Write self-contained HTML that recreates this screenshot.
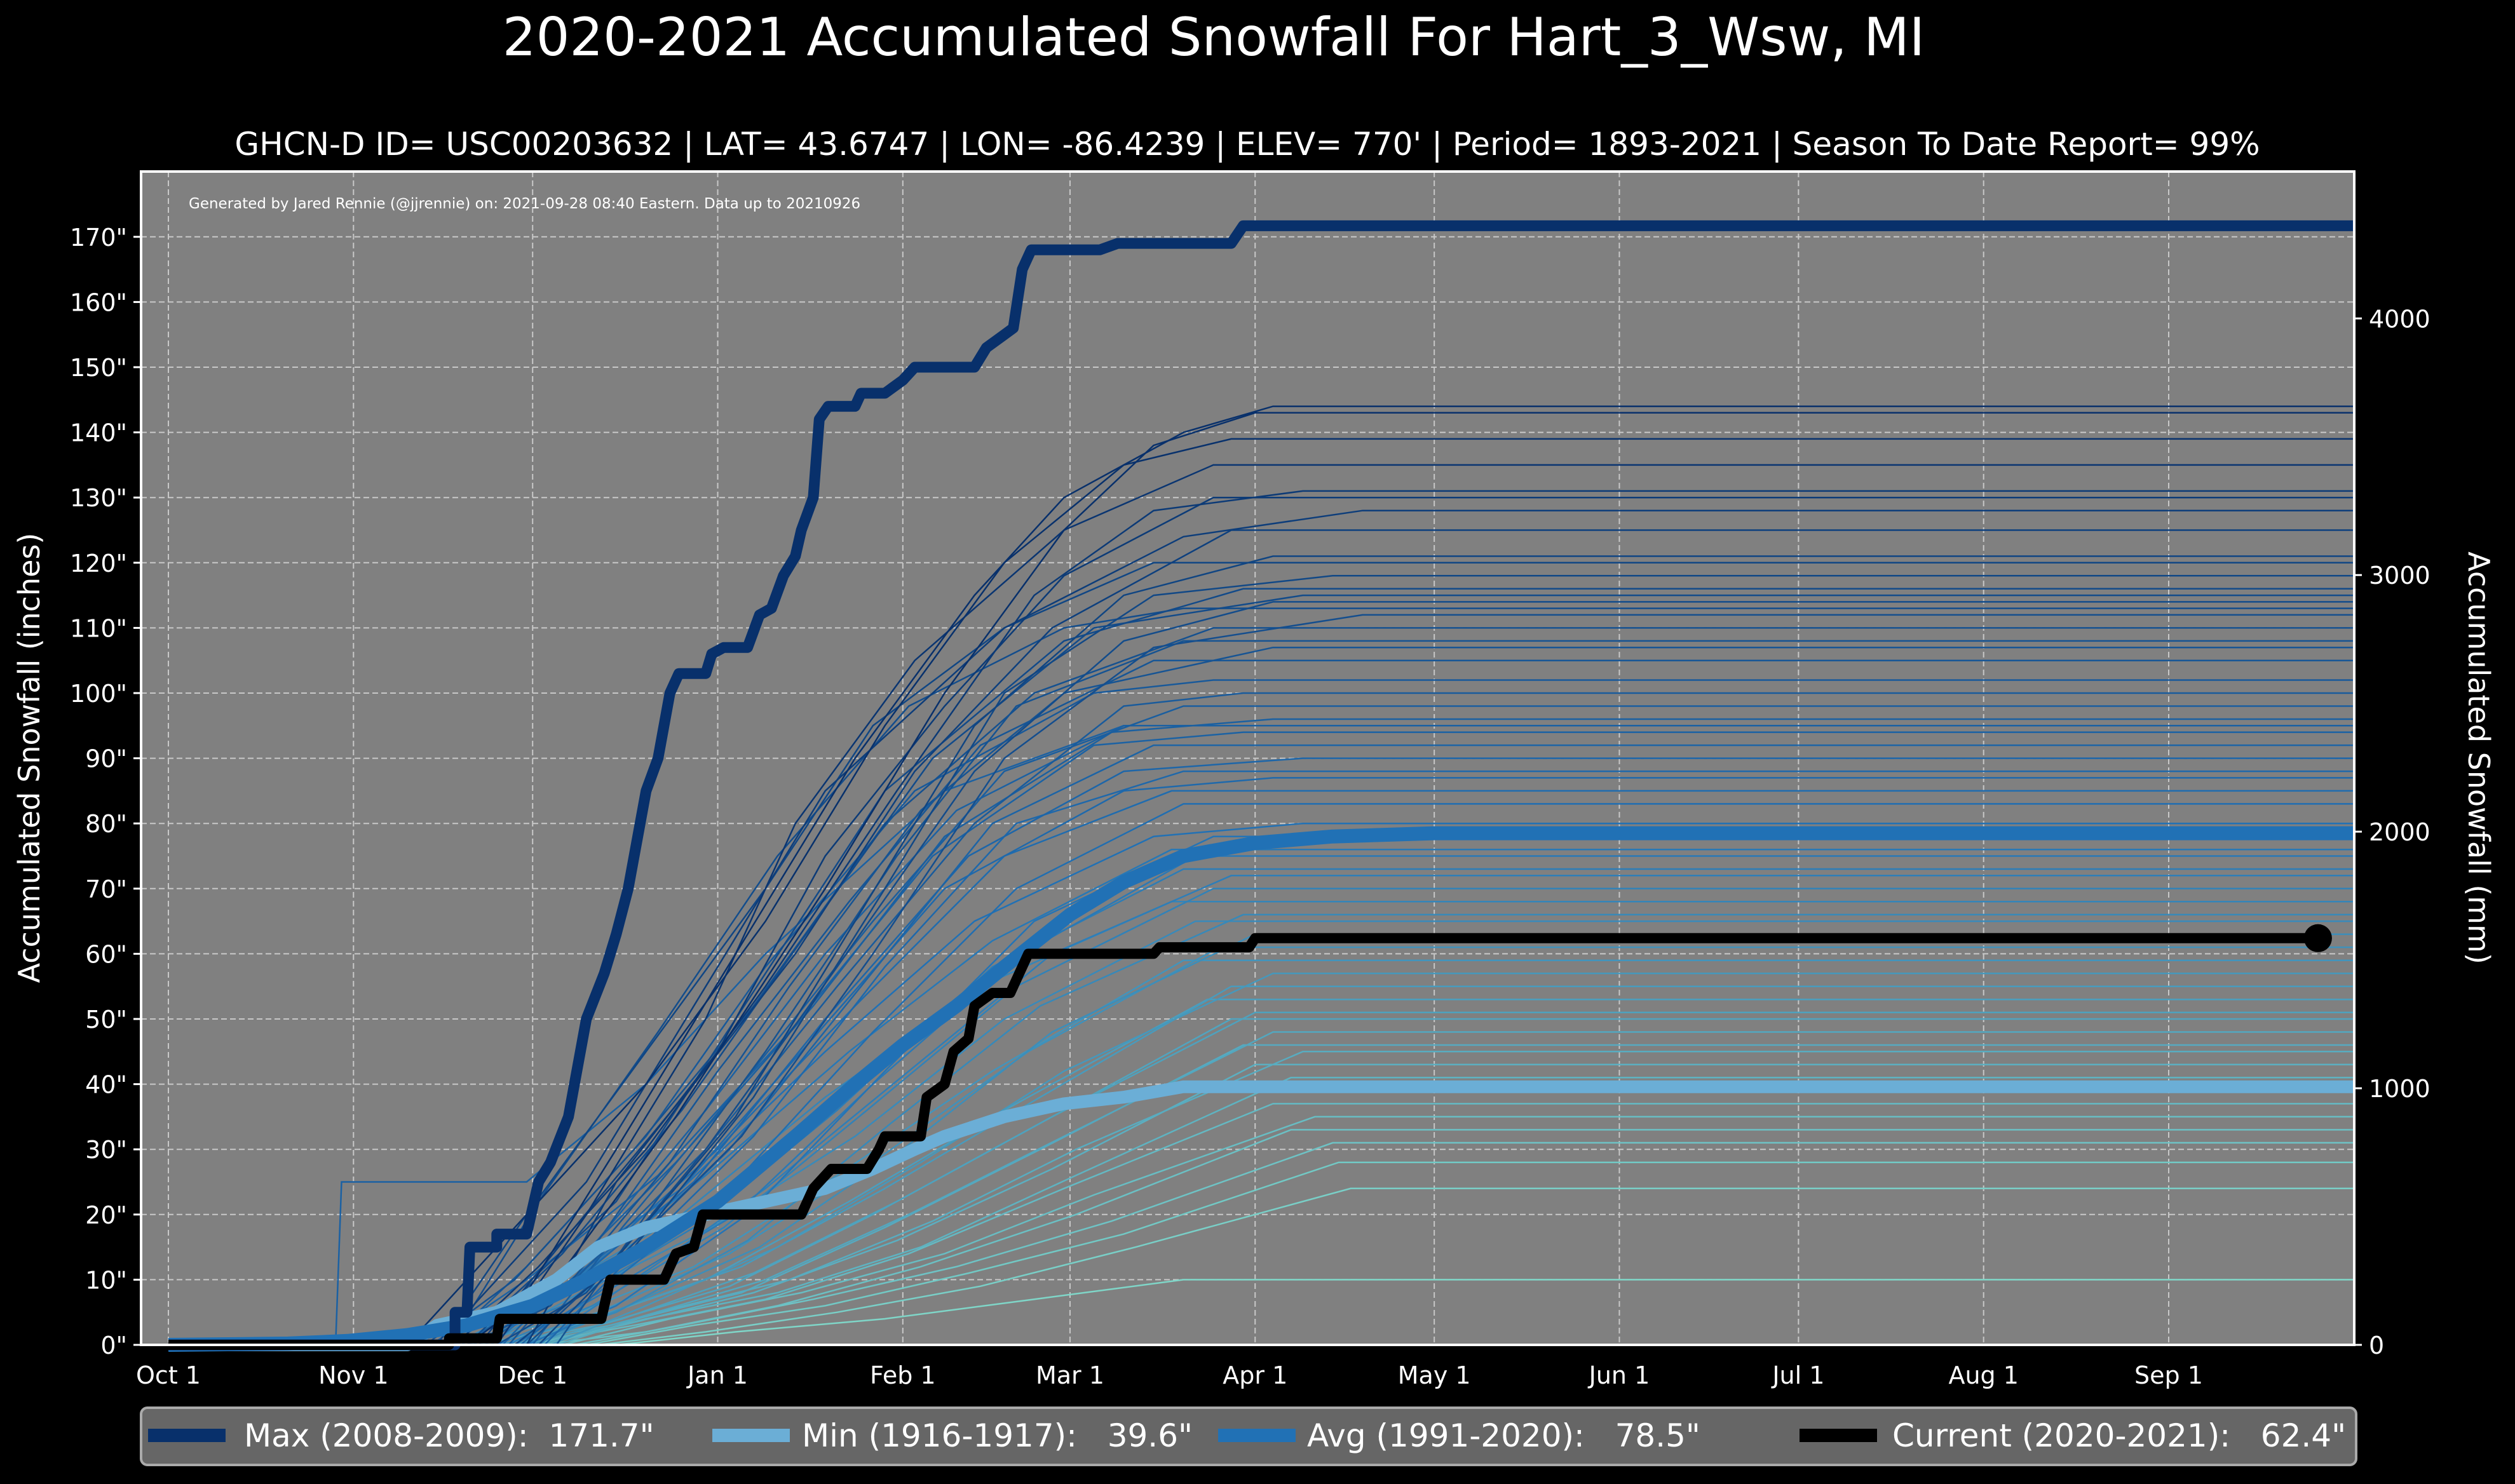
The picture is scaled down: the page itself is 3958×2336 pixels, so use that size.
<!DOCTYPE html>
<html><head><meta charset="utf-8"><style>
html,body{margin:0;padding:0;background:#000;}
svg{display:block;font-family:"DejaVu Sans","Liberation Sans",sans-serif;}
</style></head><body>
<svg id="chart" width="3958" height="2336" viewBox="0 0 3958 2336" xmlns="http://www.w3.org/2000/svg">
<rect x="0" y="0" width="3958" height="2336" fill="#000"/>
<text x="1910" y="87" fill="#fff" font-size="83" text-anchor="middle">2020-2021 Accumulated Snowfall For Hart_3_Wsw, MI</text>
<text x="1963" y="244" fill="#fff" font-size="50" text-anchor="middle">GHCN-D ID= USC00203632 | LAT= 43.6747 | LON= -86.4239 | ELEV= 770' | Period= 1893-2021 | Season To Date Report= 99%</text>
<rect x="222" y="270" width="3483" height="1847" fill="#808080"/>
<g id="grid"></g>
<g id="traces"></g>
<g id="main"></g>
<rect x="222" y="270" width="3483" height="1847" fill="none" stroke="#fff" stroke-width="4"/>
<text x="297" y="328" fill="#fff" font-size="23">Generated by Jared Rennie (@jjrennie) on: 2021-09-28 08:40 Eastern. Data up to 20210926</text>
<g id="axes"></g>
<text transform="translate(62,1193) rotate(-90)" fill="#fff" font-size="46" text-anchor="middle">Accumulated Snowfall (inches)</text>
<text transform="translate(3885,1193) rotate(90)" fill="#fff" font-size="46" text-anchor="middle">Accumulated Snowfall (mm)</text>
<g>
<rect x="222" y="2216" width="3486" height="90" rx="10" fill="#666" stroke="#aaa" stroke-width="4"/>
<rect x="233" y="2249" width="122" height="21" fill="#08306b"/>
<text x="384" y="2277" fill="#fff" font-size="50" xml:space="preserve">Max (2008-2009):  171.7"</text>
<rect x="1121" y="2249" width="122" height="21" fill="#6baed6"/>
<text x="1262" y="2277" fill="#fff" font-size="50" xml:space="preserve">Min (1916-1917):   39.6"</text>
<rect x="1917" y="2249" width="122" height="21" fill="#2171b5"/>
<text x="2057" y="2277" fill="#fff" font-size="50" xml:space="preserve">Avg (1991-2020):   78.5"</text>
<rect x="2832" y="2249" width="122" height="21" fill="#000"/>
<text x="2978" y="2277" fill="#fff" font-size="50" xml:space="preserve">Current (2020-2021):   62.4"</text>
</g>
</svg>
<script>
const monthLabels = ["Oct 1","Nov 1","Dec 1","Jan 1","Feb 1","Mar 1","Apr 1","May 1","Jun 1","Jul 1","Aug 1","Sep 1"];
const monthDays = [0,31,61,92,123,151,182,212,243,273,304,335];
const yTicks = [0,10,20,30,40,50,60,70,80,90,100,110,120,130,140,150,160,170];
const mmTicks = [0,1000,2000,3000,4000];
const endDay = 366;
const maxSeries = [[0,0],[48,0],[48,5],[50,5],[50.5,15],[55,15],[55,17],[60,17],[62,25],[64,28],[67,35],[70,50],[73,57],[75,63],[77,70],[80,85],[82,90],[84,100],[85.5,103],[90,103],[91,106],[93,107],[97,107],[99,112],[101,113],[103,118],[105,121],[106,125],[108,130],[109,142],[110.5,144],[115,144],[116,146],[120,146],[123,148],[125,150],[135,150],[137,153],[140,155],[141.5,156],[143,165],[144.5,168],[156,168],[159,169],[178,169],[180,171.7],[366,171.7]];
const avgSeries = [[0,0],[20,0.2],[30,0.6],[40,1.5],[50,3],[61,6],[70,10],[80,15],[92,22],[105,32],[115,40],[123,46],[132,52],[140,58],[151,66],[160,71],[170,75],[182,77],[195,78],[212,78.5],[366,78.5]];
const minSeries = [[0,0],[40,0],[45,3],[55,5],[65,10],[72,15],[80,18],[90,20],[100,22],[110,24],[118,27],[125,30],[130,32],[140,35],[150,37],[160,38],[170,39.6],[366,39.6]];
const curSeries = [[0,0],[47,0],[47,1],[55,1],[55.5,4],[72.5,4],[74,10],[83,10],[85,14],[88,15],[89.5,20],[106,20],[108,24],[111,27],[117,27],[119,30],[120,32],[126,32],[127,38],[130,40],[131.5,45],[134,47],[135,52],[138,54],[141,54],[142,56],[144,60],[165,60],[166,61],[181,61],[182,62.4],[360,62.4]];
const seasons = [
[[45,0],[60,8],[75,30],[95,60],[115,90],[135,115],[150,130],[170,140],[185,144]],
[[50,0],[65,10],[85,35],[110,70],[130,100],[150,125],[165,138],[182,143]],
[[40,0],[55,15],[80,40],[100,65],[120,95],[140,120],[160,135],[178,139]],
[[55,0],[70,20],[90,50],[105,80],[125,105],[150,125],[175,135]],
[[48,0],[62,12],[80,30],[100,55],[122,85],[145,115],[165,128],[190,131]],
[[60,0],[75,25],[92,45],[110,75],[130,98],[150,118],[175,130]],
[[35,0],[50,5],[70,25],[90,55],[110,85],[140,110],[170,124],[200,128]],
[[52,0],[68,18],[88,40],[105,60],[125,88],[148,110],[178,125]],
[[58,0],[72,10],[95,35],[115,65],[135,95],[160,115],[185,121]],
[[45,0],[60,20],[80,45],[100,70],[118,95],[140,110],[165,120]],
[[62,0],[78,15],[98,38],[120,70],[140,100],[165,115],[195,118]],
[[40,0],[56,6],[75,22],[95,50],[120,85],[150,108],[180,116]],
[[50,0],[66,14],[86,36],[106,62],[128,90],[155,110],[190,115]],
[[55,0],[70,8],[90,30],[112,58],[135,88],[160,108],[185,114]],
[[47,0],[62,22],[82,48],[102,75],[124,98],[150,110],[170,113]],
[[60,0],[74,12],[96,32],[118,60],[140,90],[165,107],[200,112]],
[[43,0],[58,10],[78,30],[98,52],[120,80],[145,100],[175,110]],
[[65,0],[80,20],[100,45],[122,75],[142,98],[170,108]],
[[50,0],[64,6],[84,28],[104,55],[126,82],[150,100],[185,107]],
[[57,0],[72,16],[92,42],[114,68],[136,92],[165,105]],
[[46,0],[60,12],[80,32],[100,58],[125,85],[155,100],[175,102]],
[[53,0],[68,10],[90,30],[112,55],[135,80],[160,98],[180,100]],
[[61,0],[76,18],[96,40],[118,65],[140,88],[170,98]],
[[49,0],[63,8],[85,28],[108,52],[130,78],[158,94],[185,96]],
[[56,0],[70,14],[90,36],[110,60],[132,82],[160,95]],
[[44,0],[60,10],[82,26],[104,48],[128,75],[155,92],[180,94]],
[[59,0],[74,12],[94,30],[116,55],[138,80],[165,92]],
[[51,0],[66,8],[88,25],[110,50],[134,75],[160,88],[190,90]],
[[63,0],[78,14],[98,32],[120,58],[142,80],[170,88]],
[[48,0],[62,6],[84,22],[106,45],[130,70],[160,85],[185,87]],
[[54,0],[70,12],[92,30],[115,52],[140,75],[168,85]],
[[58,0],[72,8],[94,24],[118,48],[142,70],[170,83]],
[[47,0],[64,10],[86,24],[110,45],[135,65],[165,78],[190,80]],
[[60,0],[75,6],[97,20],[120,42],[145,65],[175,78]],
[[52,0],[68,10],[90,26],[114,45],[138,62],[168,76]],
[[57,0],[73,8],[95,20],[118,40],[143,60],[172,75]],
[[50,0],[66,6],[88,18],[112,36],[138,58],[170,73]],
[[62,0],[78,10],[100,24],[124,42],[148,60],[178,72]],
[[55,0],[71,6],[93,18],[117,36],[142,55],[175,70]],
[[48,0],[64,8],[86,20],[110,38],[136,55],[168,68]],
[[59,0],[75,5],[97,16],[121,34],[146,52],[180,66]],
[[53,0],[69,8],[91,18],[115,32],[140,50],[172,65]],
[[61,0],[77,6],[99,15],[123,30],[148,48],[182,63]],
[[56,0],[72,5],[94,14],[118,28],[144,45],[176,61]],
[[50,0],[66,4],[88,12],[112,26],[138,42],[170,59]],
[[64,0],[80,6],[102,15],[126,28],[150,42],[185,57]],
[[58,0],[74,5],[96,12],[120,24],[146,38],[178,55]],
[[52,0],[68,3],[90,10],[114,22],[140,36],[174,53]],
[[60,0],[76,4],[98,11],[122,22],[148,35],[182,51]],
[[55,0],[72,3],[94,9],[118,20],[144,33],[178,50]],
[[62,0],[78,4],[100,10],[124,20],[150,32],[185,48]],
[[57,0],[74,3],[96,8],[120,18],[146,30],[180,46]],
[[65,0],[82,5],[104,10],[128,19],[152,30],[190,45]],
[[59,0],[76,3],[98,8],[122,16],[148,27],[182,43]],
[[63,0],[80,4],[102,8],[126,15],[152,26],[188,41]],
[[60,0],[78,3],[100,7],[124,14],[150,24],[185,37]],
[[66,0],[84,4],[106,8],[130,14],[155,23],[192,35]],
[[62,0],[80,2],[102,6],[126,12],[152,20],[188,33]],
[[68,0],[86,3],[108,7],[132,12],[158,19],[195,31]],
[[70,0],[88,3],[110,6],[134,11],[160,17],[196,28]],
[[72,0],[90,2],[112,5],[136,9],[162,15],[198,24]],
[[75,0],[95,2],[120,4],[145,7],[170,10]],
[[28,0],[29,25],[60,25],[80,40],[100,60],[130,85],[160,95]]
];
const NS="http://www.w3.org/2000/svg";
const X0=265, PX_DAY=9.397, Y0=2117, PX_IN=10.26;
function xs(d){return X0+d*PX_DAY;}
function ys(v){return Y0-v*PX_IN;}
function mk(tag,parent){const e=document.createElementNS(NS,tag);parent.appendChild(e);return e;}
const grid=document.getElementById('grid'), axes=document.getElementById('axes');
monthDays.forEach((d,i)=>{
  const l=mk('line',grid);
  
  
  l.setAttribute('x1',xs(d));l.setAttribute('x2',xs(d));l.setAttribute('y1',270);l.setAttribute('y2',2117);
  l.setAttribute('stroke','#c8c8c8');l.setAttribute('stroke-width','2');l.setAttribute('stroke-dasharray','9,5');
  const t=mk('text',axes);
  
  
  t.setAttribute('x',xs(d));t.setAttribute('y',2178);t.setAttribute('fill','#fff');t.setAttribute('font-size','38');t.setAttribute('text-anchor','middle');
  t.textContent=monthLabels[i];
});
yTicks.forEach(v=>{
  const l=mk('line',grid);
  
  
  l.setAttribute('x1',222);l.setAttribute('x2',3705);l.setAttribute('y1',ys(v));l.setAttribute('y2',ys(v));
  l.setAttribute('stroke','#c8c8c8');l.setAttribute('stroke-width','2');l.setAttribute('stroke-dasharray','9,5');
  const tk=mk('line',axes);
  
  
  tk.setAttribute('x1',210);tk.setAttribute('x2',222);tk.setAttribute('y1',ys(v));tk.setAttribute('y2',ys(v));tk.setAttribute('stroke','#fff');tk.setAttribute('stroke-width','3');
  const t=mk('text',axes);
  
  
  t.setAttribute('x',200);t.setAttribute('y',ys(v)+14);t.setAttribute('fill','#fff');t.setAttribute('font-size','38');t.setAttribute('text-anchor','end');
  t.textContent=v+'"';
});
mmTicks.forEach(m=>{
  const y=ys(m/25.4);
  const tk=mk('line',axes);
  
  
  tk.setAttribute('x1',3705);tk.setAttribute('x2',3717);tk.setAttribute('y1',y);tk.setAttribute('y2',y);tk.setAttribute('stroke','#fff');tk.setAttribute('stroke-width','3');
  const t=mk('text',axes);
  
  
  t.setAttribute('x',3728);t.setAttribute('y',y+14);t.setAttribute('fill','#fff');t.setAttribute('font-size','38');
  t.textContent=m;
});
function colorFor(v){
  const a=[127,214,200], b=[8,48,107], c=[33,113,181];
  let f=Math.min(1,Math.max(0,(v-20)/120));
  let col = f<0.5 ? a.map((x,i)=>Math.round(x+(c[i]-x)*f*2)) : c.map((x,i)=>Math.round(x+(b[i]-x)*(f-0.5)*2));
  return 'rgb('+col.join(',')+')';
}
function pathOf(pts,extend){
  let p=pts.slice(); if(extend){p.push([endDay,pts[pts.length-1][1]]);}
  return p.map((q,i)=>(i?'L':'M')+xs(q[0]).toFixed(1)+','+ys(q[1]).toFixed(1)).join(' ');
}
const tr=document.getElementById('traces');
seasons.slice().sort((a,b)=>a[a.length-1][1]-b[b.length-1][1]).forEach(s=>{
  const p=mk('path',tr);
  
  
  const pts=[[0,0]].concat(s);
  p.setAttribute('d',pathOf(pts,true));
  p.setAttribute('fill','none');p.setAttribute('stroke',colorFor(s[s.length-1][1]));p.setAttribute('stroke-width','2.5');
});
const main=document.getElementById('main');
function drawMain(data,color,w,name){
  const p=mk('path',main);
  
  
  p.setAttribute('d',pathOf(data,false));
  p.setAttribute('fill','none');p.setAttribute('stroke',color);p.setAttribute('stroke-width',w);p.setAttribute('stroke-linejoin','round');
}
drawMain(minSeries,'#6baed6',20,'min-line');
drawMain(avgSeries,'#2171b5',22,'avg-line');
drawMain(maxSeries,'#08306b',17,'max-line');
drawMain(curSeries,'#000',16,'current-line');
const last=curSeries[curSeries.length-1];
const dot=mk('circle',main);


dot.setAttribute('cx',xs(last[0]));dot.setAttribute('cy',ys(last[1]));dot.setAttribute('r','22');dot.setAttribute('fill','#000');
</script>
</body></html>
